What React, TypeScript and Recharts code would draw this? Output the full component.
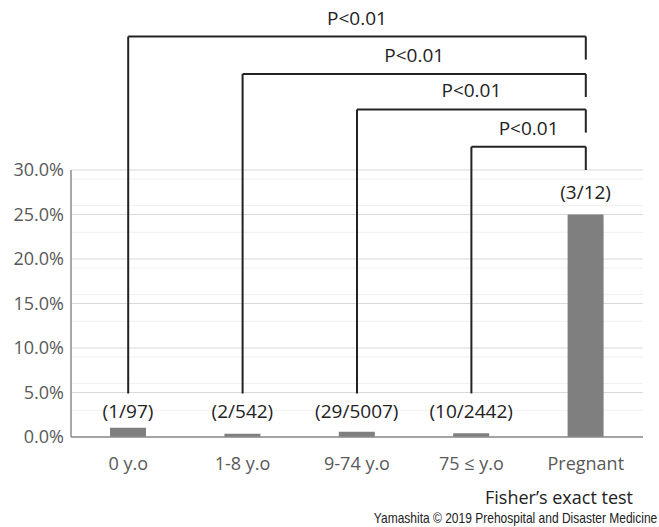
import React from "react";
import {
  BarChart,
  Bar,
  XAxis,
  YAxis,
  CartesianGrid,
  ReferenceLine,
  LabelList,
} from "recharts";

const categories = ["0 y.o", "1-8 y.o", "9-74 y.o", "75 ≤ y.o", "Pregnant"];
const cases = [1, 2, 29, 10, 3];
const totals = [97, 542, 5007, 2442, 12];
const yTicks = [0, 0.05, 0.1, 0.15, 0.2, 0.25, 0.3];
const minorTicks = [0.01, 0.02, 0.03, 0.04, 0.06, 0.07, 0.08, 0.09, 0.11, 0.12, 0.13, 0.14, 0.16, 0.17, 0.18, 0.19, 0.21, 0.22, 0.23, 0.24, 0.26, 0.27, 0.28, 0.29];

// brackets: compared group vs Pregnant
const compareFrom = ["0 y.o", "1-8 y.o", "9-74 y.o", "75 ≤ y.o"];
const compareLabels = ["P<0.01", "P<0.01", "P<0.01", "P<0.01"];
const bracketTop = [0.45, 0.408, 0.368, 0.326];
const bracketDrop = [0.424, 0.382, 0.342, 0.3];
const bracketBottom = 0.049;

const data = categories.map((c, i) => ({
  name: c,
  rate: cases[i] / totals[i],
  label: `(${cases[i]}/${totals[i]})`,
}));

const FONT = "'Open Sans', 'Noto Sans', sans-serif";

const BarLabel = (props: any) => {
  const { x, y, width, height, value } = props;
  // tiny bars: keep label on a common line just above the axis
  const baseY = height < 20 ? y + height - 19 : y - 16;
  return (
    <text
      x={x + width / 2}
      y={baseY}
      textAnchor="middle"
      fontFamily={FONT}
      fontSize={19}
      fill="#222"
    >
      {value}
    </text>
  );
};

export default function App() {
  return (
    <div
      style={{
        position: "relative",
        width: 659,
        height: 527,
        overflow: "hidden",
      }}
    >
      <style>{"body{margin:0}"}</style>
      <BarChart
        width={659}
        height={510}
        data={data}
        margin={{ top: 170, right: 16, left: 0, bottom: 38 }}
        barCategoryGap={0}
      >
        <CartesianGrid
          horizontal
          vertical={false}
          horizontalValues={minorTicks}
          stroke="#f0f0f0"
        />
        <CartesianGrid
          horizontal
          vertical={false}
          horizontalValues={yTicks}
          stroke="#d9d9d9"
        />
        <XAxis
          dataKey="name"
          tickLine={false}
          axisLine={{ stroke: "#8c8c8c", strokeWidth: 1.5 }}
          tick={{ fill: "#595959", fontSize: 18, fontFamily: FONT }}
          tickMargin={14}
          height={35}
        />
        <YAxis
          width={71}
          domain={[0, 0.3]}
          ticks={yTicks}
          tickLine={false}
          axisLine={{ stroke: "#8c8c8c", strokeWidth: 1.5 }}
          tickFormatter={(v) => `${(v * 100).toFixed(1)}%`}
          tick={{ fill: "#595959", fontSize: 18, fontFamily: FONT }}
          tickMargin={1}
        />
        <Bar dataKey="rate" fill="#7f7f7f" barSize={36} isAnimationActive={false}>
          <LabelList dataKey="label" content={BarLabel} />
        </Bar>
        {compareFrom.map((c, i) => (
          <ReferenceLine
            key={`v${i}`}
            segment={[
              { x: c, y: bracketBottom },
              { x: c, y: bracketTop[i] },
            ]}
            stroke="#222"
            strokeWidth={2}
            ifOverflow="visible"
          />
        ))}
        {compareFrom.map((c, i) => (
          <ReferenceLine
            key={`h${i}`}
            segment={[
              { x: c, y: bracketTop[i] },
              { x: "Pregnant", y: bracketTop[i] },
            ]}
            stroke="#222"
            strokeWidth={2}
            ifOverflow="visible"
            label={{
              value: compareLabels[i],
              position: "top",
              offset: 12,
              fill: "#222",
              fontSize: 19,
              fontFamily: FONT,
            }}
          />
        ))}
        {compareFrom.map((c, i) => (
          <ReferenceLine
            key={`d${i}`}
            segment={[
              { x: "Pregnant", y: bracketTop[i] },
              { x: "Pregnant", y: bracketDrop[i] },
            ]}
            stroke="#222"
            strokeWidth={2}
            ifOverflow="visible"
          />
        ))}
      </BarChart>
      <div
        style={{
          position: "absolute",
          right: 26,
          top: 485,
          fontFamily: FONT,
          fontSize: 18,
          lineHeight: "24px",
          color: "#222",
          whiteSpace: "nowrap",
        }}
      >
        Fisher’s exact test
      </div>
      <div
        style={{
          position: "absolute",
          right: 2,
          top: 509,
          fontFamily: "'Liberation Sans', Arial, sans-serif",
          fontSize: 15,
          lineHeight: "17px",
          color: "#222",
          whiteSpace: "nowrap",
          transform: "scaleX(0.8)",
          transformOrigin: "right center",
        }}
      >
        Yamashita © 2019 Prehospital and Disaster Medicine
      </div>
    </div>
  );
}
